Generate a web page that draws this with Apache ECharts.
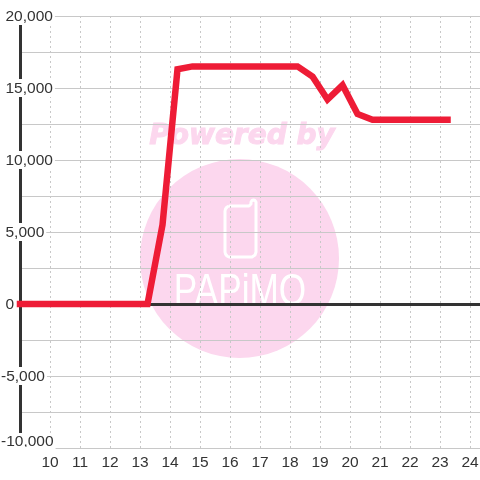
<!DOCTYPE html>
<html><head><meta charset="utf-8">
<style>html,body{margin:0;padding:0;background:#fff}#c{width:480px;height:480px}</style>
<script src="https://cdn.jsdelivr.net/npm/echarts@6/dist/echarts.min.js"></script>
</head><body><div id="c"></div>
<script>
const hours = [9,13.25,13.75,14.25,14.75,15.25,15.75,16.25,16.75,17.25,17.75,18.25,18.75,19.25,19.75,20.25,20.75,21.25,21.75,22.25,22.75,23.25];
const values = [0,0,5500,16300,16500,16500,16500,16500,16500,16500,16500,16500,15800,14200,15200,13200,12800,12800,12800,12800,12800,12800];
const xMin = 9, xMax = 24.333, yMin = -10000, yMax = 20000;
const pink = '#fcd7ee';
const phoneOutline = [[229,206],[249,206],[251,204],[251,202],[252,200.5],[253.5,200],[255,200.5],[256,202],[256,252],[255,255],[252,257],[229,257],[227,256],[225.5,254],[225,252],[225,211],[225.5,209],[227,207],[229,206]];
const fs = 15.5;
const chart = echarts.init(document.getElementById('c'), null, {renderer:'canvas'});
chart.setOption({
  animation:false,
  backgroundColor:'#ffffff',
  graphic:[
    {type:'circle',z:-10,shape:{cx:239.5,cy:258.5,r:99.5},style:{fill:pink}},
    {type:'text',z:-10,x:242,y:137,style:{text:'Powered by',fill:pink,stroke:pink,lineWidth:1,font:'italic bold 28px "DejaVu Sans"',align:'center',verticalAlign:'middle'}},
    {type:'polyline',z:-9,shape:{points:phoneOutline},style:{fill:'none',stroke:'#fff',lineWidth:3,lineJoin:'round'}},
    {type:'text',z:-9,x:240,y:293,scaleX:0.8,style:{text:'PAPiMO',fill:'#fff',font:'normal 44px "Liberation Sans"',align:'center',verticalAlign:'middle'}},
    {type:'rect',z:20,shape:{x:0,y:447,width:54,height:3},style:{fill:'#fff'}}
  ],
  grid:{left:20,right:0,top:16,bottom:32,containLabel:false,outerBoundsMode:'none'},
  xAxis:[
    {type:'value',position:'bottom',min:xMin,max:xMax,interval:1,
     axisLine:{show:false,onZero:false},axisTick:{show:false},
     axisLabel:{color:'#333',fontFamily:'"Liberation Sans"',fontSize:fs,margin:7,showMinLabel:false,showMaxLabel:false},
     splitLine:{show:true,lineStyle:{color:'#c8c8c8',type:[2,3],width:1}}},
    {type:'value',position:'bottom',min:xMin,max:xMax,interval:1,
     axisLine:{show:true,onZero:true,lineStyle:{color:'#333',width:3}},axisTick:{show:false},
     axisLabel:{show:false},splitLine:{show:false}}
  ],
  yAxis:{type:'value',min:yMin,max:yMax,interval:2500,
    axisLine:{show:true,onZero:false,lineStyle:{color:'#333',width:3}},axisTick:{show:false},
    axisLabel:{color:'#333',fontFamily:'"Liberation Sans"',fontSize:fs,margin:19,align:'left',
      verticalAlignMinLabel:'bottom',
      rich:{
        pos:{color:'#333',fontFamily:'"Liberation Sans"',fontSize:fs,lineHeight:14,backgroundColor:'#fff',padding:[2,2,0,4.5]},
        neg:{color:'#333',fontFamily:'"Liberation Sans"',fontSize:fs,lineHeight:14,backgroundColor:'#fff',padding:[2,2,0,0]},
        min:{color:'#333',fontFamily:'"Liberation Sans"',fontSize:fs,lineHeight:13,backgroundColor:'#fff',padding:[1,2,0,0]}
      },
      formatter:v=>{
        if (v % 5000 !== 0) return '';
        const s = v.toLocaleString('en-US');
        return '{' + (v === yMin ? 'min' : v < 0 ? 'neg' : 'pos') + '|' + s + '}';
      }},
    splitLine:{show:true,lineStyle:{color:'#c8c8c8',width:1}}},
  series:[{type:'line',xAxisIndex:0,data:hours.map((h,i)=>[h,values[i]]),showSymbol:false,smooth:false,
    lineStyle:{color:'#ee1c36',width:6.5,cap:'square',join:'miter'},clip:false,z:5}]
});
</script></body></html>
